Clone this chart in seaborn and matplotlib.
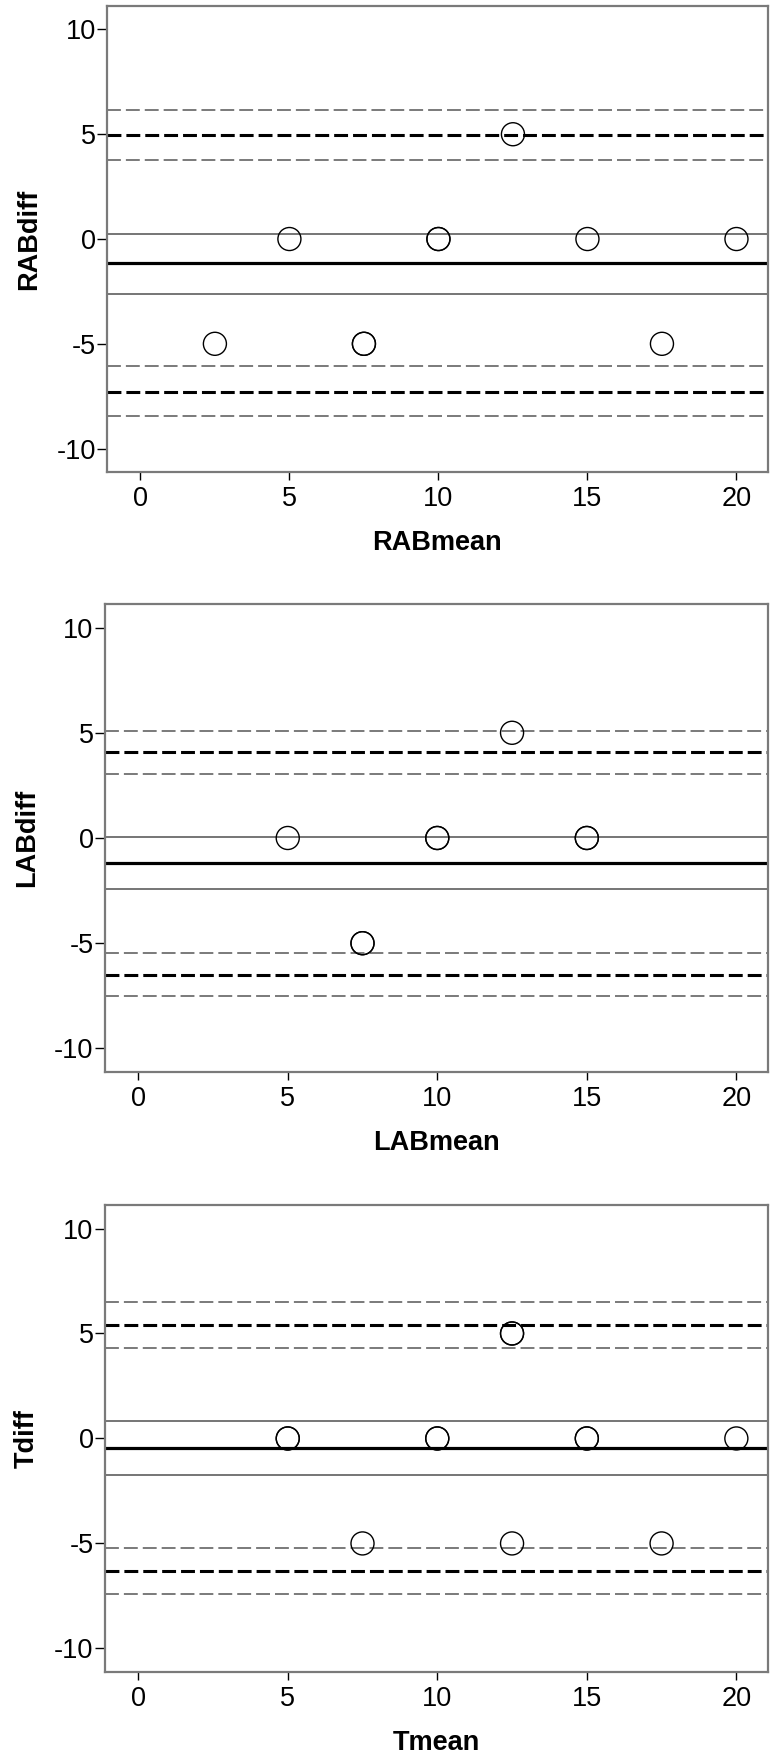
import seaborn as sns
import matplotlib.pyplot as plt
import pandas as pd

# --- data ---
panel_names = ["RAB", "LAB", "T"]

rab_mean = [2.5, 5, 7.5, 7.5, 10, 10, 12.5, 15, 17.5, 20]
rab_diff = [-5, 0, -5, -5, 0, 0, 5, 0, -5, 0]
rab_lines = {"bias": -1.16, "bias_ci": (0.25, -2.60),
             "loa": (4.97, -7.28), "loa_ci": (6.14, 3.77, -6.07, -8.46)}

lab_mean = [5, 7.5, 7.5, 10, 10, 12.5, 15, 15]
lab_diff = [0, -5, -5, 0, 0, 5, 0, 0]
lab_lines = {"bias": -1.19, "bias_ci": (0.03, -2.42),
             "loa": (4.07, -6.51), "loa_ci": (5.10, 3.05, -5.46, -7.51)}

t_mean = [5, 5, 7.5, 10, 10, 12.5, 12.5, 12.5, 15, 15, 17.5, 20]
t_diff = [0, 0, -5, 0, 0, 5, 5, -5, 0, 0, -5, 0]
t_lines = {"bias": -0.46, "bias_ci": (0.83, -1.76),
           "loa": (5.41, -6.31), "loa_ci": (6.49, 4.31, -5.23, -7.39)}

panels = [(rab_mean, rab_diff, rab_lines),
          (lab_mean, lab_diff, lab_lines),
          (t_mean, t_diff, t_lines)]

sns.set_theme(style="white")
plt.rcParams['font.family'] = ['Liberation Sans', 'DejaVu Sans']
plt.rcParams['lines.scale_dashes'] = False
plt.rcParams['axes.unicode_minus'] = False

fig = plt.figure(figsize=(7.71, 17.64), dpi=100)

# axes boxes in figure fractions (left, bottom, width, height)
boxes = [(0.1388, 0.7324, 0.857, 0.2642),
         (0.1358, 0.3923, 0.860, 0.2653),
         (0.1358, 0.0522, 0.860, 0.2647)]

dash = (10, 3.6)

for name, (xs, ys, ln), box in zip(panel_names, panels, boxes):
    ax = fig.add_axes(box)
    df = pd.DataFrame({"mean": xs, "diff": ys})

    # confidence interval of the limits of agreement
    for v in ln["loa_ci"]:
        ax.axhline(v, color="#7a7a7a", lw=1.4, dashes=dash, zorder=1)
    # limits of agreement
    for v in ln["loa"]:
        ax.axhline(v, color="black", lw=2.2, dashes=dash, zorder=2)
    # confidence interval of the bias
    for v in ln["bias_ci"]:
        ax.axhline(v, color="#6a6a6a", lw=1.3, zorder=1)
    # bias
    ax.axhline(ln["bias"], color="black", lw=2.3, zorder=2)

    sns.scatterplot(data=df, x="mean", y="diff", ax=ax, s=275, marker="o",
                    facecolor="none", edgecolor="black", linewidth=1.0,
                    zorder=3)

    ax.set_xlim(-1.12, 21.05)
    ax.set_ylim(-11.12, 11.12)
    ax.set_xticks([0, 5, 10, 15, 20])
    ax.set_yticks([-10, -5, 0, 5, 10])
    ax.tick_params(axis="both", which="major", direction="out",
                   width=1.0, color="black", labelsize=19.5, labelcolor="black",
                   bottom=True, left=True)
    ax.tick_params(axis="x", pad=4, length=6)
    ax.tick_params(axis="y", pad=1, length=7)

    for sp in ax.spines.values():
        sp.set_color("#7a7a7a")
        sp.set_linewidth(1.6)

    ax.set_xlabel(f"{name}mean", fontsize=19.5, fontweight="bold", color="black")
    ax.set_ylabel(f"{name}diff", fontsize=19.5, fontweight="bold", color="black")
    ax.xaxis.set_label_coords(0.5, -0.125)
    ax.yaxis.set_label_coords(-0.098, 0.5)
    ax.grid(False)

fig.savefig("out.png", dpi=100, facecolor="white")
